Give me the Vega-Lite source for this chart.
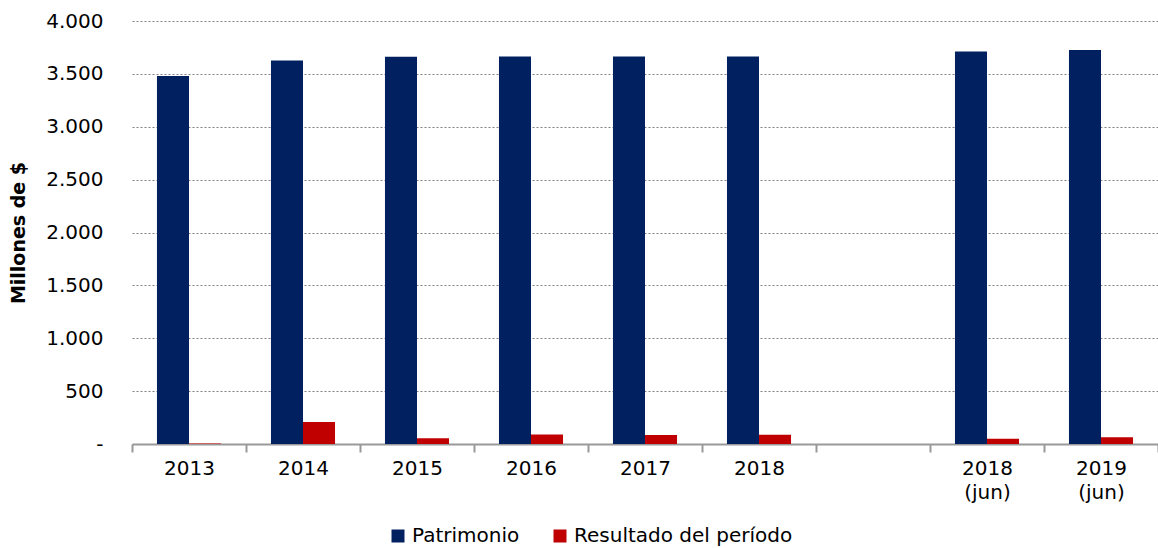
{
  "$schema": "https://vega.github.io/schema/vega-lite/v6.json",
  "autosize": "none",
  "width": 1026,
  "height": 423,
  "padding": {"left": 132, "top": 21, "right": 0, "bottom": 104},
  "background": "white",
  "config": {
    "font": "DejaVu Sans",
    "view": {"stroke": null},
    "axis": {"labelFont": "DejaVu Sans", "titleFont": "DejaVu Sans", "labelColor": "#000", "titleColor": "#000"},
    "legend": {"labelFont": "DejaVu Sans", "labelColor": "#000"}
  },
  "data": {
    "values": [
      {"periodo": "2013", "serie": "Patrimonio", "valor": 3480},
      {"periodo": "2013", "serie": "Resultado del período", "valor": 5},
      {"periodo": "2014", "serie": "Patrimonio", "valor": 3626},
      {"periodo": "2014", "serie": "Resultado del período", "valor": 207},
      {"periodo": "2015", "serie": "Patrimonio", "valor": 3663},
      {"periodo": "2015", "serie": "Resultado del período", "valor": 55},
      {"periodo": "2016", "serie": "Patrimonio", "valor": 3664},
      {"periodo": "2016", "serie": "Resultado del período", "valor": 90},
      {"periodo": "2017", "serie": "Patrimonio", "valor": 3664},
      {"periodo": "2017", "serie": "Resultado del período", "valor": 85},
      {"periodo": "2018", "serie": "Patrimonio", "valor": 3665},
      {"periodo": "2018", "serie": "Resultado del período", "valor": 88},
      {"periodo": "2018 (jun)", "serie": "Patrimonio", "valor": 3712},
      {"periodo": "2018 (jun)", "serie": "Resultado del período", "valor": 50},
      {"periodo": "2019 (jun)", "serie": "Patrimonio", "valor": 3726},
      {"periodo": "2019 (jun)", "serie": "Resultado del período", "valor": 63}
    ]
  },
  "mark": {"type": "bar"},
  "encoding": {
    "x": {
      "field": "periodo",
      "type": "nominal",
      "scale": {
        "domain": ["2013", "2014", "2015", "2016", "2017", "2018", "gap", "2018 (jun)", "2019 (jun)"],
        "paddingInner": 0,
        "paddingOuter": 0
      },
      "axis": {
        "title": null,
        "labelAngle": 0,
        "labelFontSize": 20,
        "labelPadding": 6,
        "labelLineHeight": 24,
        "labelExpr": "isValid(datum.value) && datum.value != 'gap' ? split(datum.value, ' ') : ''",
        "tickBand": "extent",
        "tickSize": 8,
        "tickColor": "#999999",
        "tickWidth": 2,
        "domainColor": "#999999",
        "domainWidth": 2,
        "grid": false
      }
    },
    "xOffset": {
      "field": "serie",
      "type": "nominal",
      "sort": ["Patrimonio", "Resultado del período"],
      "scale": {"paddingInner": 0, "paddingOuter": 0.78}
    },
    "y": {
      "field": "valor",
      "type": "quantitative",
      "scale": {"domain": [0, 4000], "nice": false},
      "axis": {
        "title": "Millones de $",
        "titleFontSize": 19,
        "titleFontWeight": "bold",
        "titlePadding": 17,
        "values": [0, 500, 1000, 1500, 2000, 2500, 3000, 3500, 4000],
        "labelExpr": "datum.value == 0 ? '-\u00a0\u00a0\u00a0' : replace(format(datum.value, ','), ',', '.')",
        "labelFontSize": 20,
        "labelPadding": 29,
        "ticks": false,
        "domain": false,
        "grid": true,
        "gridColor": "#808080",
        "gridDash": [2, 2],
        "gridWidth": 1
      }
    },
    "color": {
      "field": "serie",
      "type": "nominal",
      "scale": {"domain": ["Patrimonio", "Resultado del período"], "range": ["#002060", "#C00000"]},
      "legend": {
        "title": null,
        "orient": "none",
        "direction": "horizontal",
        "legendX": 256,
        "legendY": 505,
        "symbolType": "square",
        "symbolSize": 169,
        "symbolStrokeWidth": 0,
        "labelFontSize": 20,
        "labelOffset": 4,
        "labelLimit": 400,
        "columnPadding": 30,
        "padding": 0
      }
    }
  }
}
